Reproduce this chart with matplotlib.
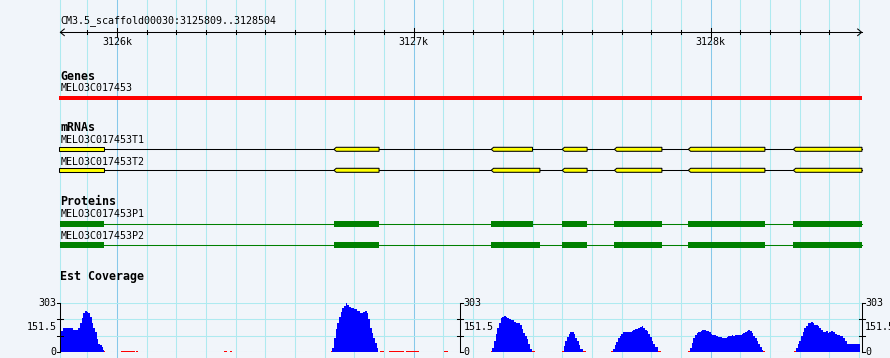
import matplotlib
matplotlib.use("Agg")
import matplotlib.pyplot as plt
from matplotlib.patches import Polygon

ref_name = "CM3.5_scaffold00030"
view_start = 3125809
view_end = 3128504

gene_name = "MELO3C017453"
gene_span = (3125809, 3128504)

mrna_names = ["MELO3C017453T1", "MELO3C017453T2"]
mrna_t1_exons = [(3125809, 3125955), (3126731, 3126883), (3127261, 3127400), (3127500, 3127584),
                 (3127676, 3127836), (3127925, 3128183), (3128279, 3128510)]
mrna_t2_exons = [(3125809, 3125955), (3126731, 3126883), (3127261, 3127425), (3127500, 3127584),
                 (3127676, 3127836), (3127925, 3128183), (3128279, 3128510)]

protein_names = ["MELO3C017453P1", "MELO3C017453P2"]
protein_p1_cds = [(3125809, 3125956), (3126731, 3126884), (3127260, 3127401), (3127499, 3127585),
                  (3127675, 3127837), (3127924, 3128184), (3128277, 3128510)]
protein_p2_cds = [(3125809, 3125956), (3126731, 3126884), (3127260, 3127426), (3127499, 3127585),
                  (3127675, 3127837), (3127924, 3128184), (3128277, 3128510)]

cov_max = 303
# step starts (bp) and est coverage values; each step runs to the next start
cov_start = [
    3125809, 3125811, 3125818, 3125825, 3125845, 3125852, 3125869, 3125875, 3125881, 3125887,
    3125892, 3125898, 3125903, 3125909, 3125915, 3125920, 3125926, 3125932, 3125937, 3125943,
    3125949, 3125954, 3125957, 3125960,
    3126014, 3126061, 3126064, 3126071, 3126361, 3126371, 3126381, 3126388,
    3126722, 3126725, 3126731, 3126737, 3126742, 3126748, 3126754, 3126759, 3126765, 3126771,
    3126776, 3126782, 3126787, 3126799, 3126808, 3126819, 3126830, 3126836, 3126841, 3126847,
    3126852, 3126858, 3126864, 3126869, 3126875, 3126880,
    3126886, 3126900, 3126916, 3126967, 3126974, 3127018, 3127102, 3127115,
    3127260, 3127264, 3127270, 3127276, 3127281, 3127287, 3127293, 3127298, 3127304, 3127310,
    3127315, 3127321, 3127326, 3127338, 3127343, 3127352, 3127358, 3127364, 3127369, 3127375,
    3127380, 3127386, 3127391, 3127397, 3127408,
    3127499, 3127505, 3127510, 3127516, 3127522, 3127527, 3127533, 3127539, 3127544, 3127550,
    3127556, 3127561, 3127569, 3127580,
    3127665, 3127671, 3127677, 3127682, 3127688, 3127694, 3127699, 3127705, 3127723, 3127734,
    3127740, 3127745, 3127751, 3127756, 3127762, 3127768, 3127773, 3127779, 3127785, 3127790,
    3127796, 3127801, 3127807, 3127813, 3127822, 3127833,
    3127924, 3127930, 3127936, 3127942, 3127947, 3127953, 3127958, 3127967, 3127972, 3127983,
    3127989, 3127994, 3128000, 3128006, 3128017, 3128026, 3128037, 3128043, 3128048, 3128054,
    3128060, 3128065, 3128071, 3128076, 3128082, 3128105, 3128110, 3128116, 3128122, 3128127,
    3128133, 3128138, 3128144, 3128150, 3128155, 3128161, 3128166, 3128172, 3128177, 3128183,
    3128281, 3128288, 3128293, 3128299, 3128304, 3128310, 3128316, 3128321, 3128327, 3128332,
    3128338, 3128344, 3128349, 3128361, 3128366, 3128372, 3128378, 3128389, 3128394, 3128400,
    3128406, 3128413, 3128419, 3128425, 3128436, 3128447, 3128453, 3128458,
]
cov_val = [
    93, 129, 145, 149, 145, 137, 145, 180, 207, 238,
    253, 246, 240, 216, 180, 149, 122, 77, 46, 40,
    29, 14, 7, 0,
    7, 0, 7, 0, 7, 0, 7, 0,
    7, 25, 87, 139, 180, 216, 243, 269, 284, 303,
    290, 278, 269, 261, 249, 240, 245, 249, 236, 201,
    149, 118, 87, 56, 25, 0,
    7, 0, 7, 0, 7, 0, 7, 0,
    7, 25, 66, 108, 149, 180, 207, 216, 222, 216,
    211, 205, 193, 185, 180, 176, 164, 139, 118, 98,
    77, 46, 20, 7, 0,
    7, 35, 66, 91, 108, 120, 124, 108, 87, 66,
    42, 19, 7, 0,
    7, 17, 42, 62, 83, 98, 112, 122, 124, 129,
    135, 139, 143, 149, 154, 157, 145, 137, 129, 112,
    91, 70, 50, 29, 7, 0,
    7, 25, 56, 83, 104, 116, 124, 131, 133, 126,
    129, 122, 112, 104, 98, 91, 83, 87, 83, 91,
    98, 95, 102, 98, 104, 108, 114, 120, 126, 135,
    129, 116, 98, 83, 66, 50, 29, 12, 7, 0,
    7, 25, 46, 70, 98, 124, 149, 162, 176, 180,
    183, 176, 166, 157, 145, 133, 122, 129, 118, 122,
    129, 122, 112, 104, 98, 83, 66, 52,
]
cov_end = 3128504

# ---- layout (pixel units) ----
W, H = 890, 358
PX_PER_BP = 0.2968
REF_BP, REF_PX = 3125900, 87.3
PX = 1.0 / PX_PER_BP  # one pixel in bp
x0 = REF_BP - REF_PX * PX
x1 = x0 + W * PX

BG = "#f1f5fa"
GRID_MINOR = "#aeeaf0"
GRID_MAJOR = "#86c8ea"
FONT = "DejaVu Sans Mono"
SMALL = 7.2
BOLD = 8.4
LW = 0.75

fig = plt.figure(figsize=(W / 100, H / 100), dpi=100, facecolor=BG)
ax = fig.add_axes([0, 0, 1, 1])
ax.set_xlim(x0, x1)
ax.set_ylim(H, 0)
ax.axis("off")

# vertical grid
ax.axvline(view_start, color=GRID_MINOR, lw=LW, zorder=0)
for g in range(3125900, 3128600, 100):
    ax.axvline(g, color=GRID_MAJOR if g % 1000 == 0 else GRID_MINOR, lw=LW, zorder=0)

# ruler
ax.text(view_start, 21, f"{ref_name}:{view_start}..{view_end}", family=FONT, size=SMALL,
        ha="left", va="center")
ry = 32.3
ax.plot([view_start, view_end + 1.5 * PX], [ry, ry], color="black", lw=LW)
ax.plot([view_start + 4 * PX, view_start, view_start + 4 * PX], [ry - 3.3, ry, ry + 3.3],
        color="black", lw=LW)
ax.plot([view_end - 2.5 * PX, view_end + 1.5 * PX, view_end - 2.5 * PX], [ry - 3.3, ry, ry + 3.3],
        color="black", lw=LW)
for g in range(3125900, 3128500, 100):
    if g % 1000 == 0:
        ax.plot([g, g], [ry - 4.3, ry + 4.3], color="black", lw=LW)
        ax.text(g, 42, f"{g // 1000}k", family=FONT, size=SMALL, ha="center", va="center")
    else:
        ax.plot([g, g], [ry - 2, ry + 2], color="black", lw=LW)

# genes
ax.text(view_start, 76, "Genes", family=FONT, size=BOLD, weight="bold", ha="left", va="center")
ax.text(view_start, 88.3, gene_name, family=FONT, size=SMALL, ha="left", va="center")
ax.broken_barh([(gene_span[0] - 1.5 * PX, gene_span[1] - gene_span[0] + 3 * PX)], (95.6, 4.8),
               facecolor="#ff0000", edgecolor="none")

# mRNAs
ax.text(view_start, 127.5, "mRNAs", family=FONT, size=BOLD, weight="bold", ha="left", va="center")
for name, exons, ly, yc in [(mrna_names[0], mrna_t1_exons, 140, 149.3),
                            (mrna_names[1], mrna_t2_exons, 161.7, 170.3)]:
    ax.text(view_start, ly, name, family=FONT, size=SMALL, ha="left", va="center")
    ax.plot([exons[0][0], exons[-1][1]], [yc, yc], color="black", lw=LW, zorder=2)
    for i, (s, e) in enumerate(exons):
        if i == 0:
            pts = [(s - 1.5 * PX, yc - 2), (e, yc - 2), (e, yc + 2), (s - 1.5 * PX, yc + 2)]
        else:
            pts = [(s, yc), (s + 2.3 * PX, yc - 2), (e, yc - 2), (e, yc + 2), (s + 2.3 * PX, yc + 2)]
        ax.add_patch(Polygon(pts, closed=True, facecolor="#ffff00", edgecolor="black",
                             lw=LW, zorder=3))

# proteins
ax.text(view_start, 201.7, "Proteins", family=FONT, size=BOLD, weight="bold", ha="left", va="center")
for name, cds, ly, yc in [(protein_names[0], protein_p1_cds, 214, 223.8),
                          (protein_names[1], protein_p2_cds, 235.8, 244.8)]:
    ax.text(view_start, ly, name, family=FONT, size=SMALL, ha="left", va="center")
    ax.plot([cds[0][0], cds[-1][1]], [yc, yc], color="#008000", lw=LW, zorder=2)
    ax.broken_barh([(s, e - s) for s, e in cds], (yc - 2.8, 5.7),
                   facecolor="#008000", edgecolor="none", zorder=3)

# est coverage
ax.text(view_start, 276.3, "Est Coverage", family=FONT, size=BOLD, weight="bold",
        ha="left", va="center")

top_px, base_px = 302.5, 352
axc = fig.add_axes([0, (H - base_px) / H, 1, (base_px - top_px) / H])
axc.set_xlim(x0, x1)
axc.set_ylim(0, cov_max)
axc.axis("off")
axc.patch.set_visible(False)

grid_vals = [0, cov_max / 3, 2 * cov_max / 3, cov_max]
for v in grid_vals:
    axc.plot([view_start, view_end + 1.5 * PX], [v, v], color=GRID_MINOR, lw=LW, zorder=0)

widths = [b - a for a, b in zip(cov_start, cov_start[1:] + [cov_end])]
colors = ["#ff0000" if v < 10 else "#0000ff" for v in cov_val]
axc.bar(cov_start, cov_val, width=widths, align="edge", color=colors, linewidth=0,
        antialiased=False, zorder=2)

mid = (view_start + view_end) / 2
for xa, side in [(view_start, -1), (mid, 1), (view_end + 1.5 * PX, 1)]:
    axc.plot([xa, xa], [0, cov_max], color="black", lw=LW, zorder=4, clip_on=False)
    for v in grid_vals:
        if v in (0, cov_max):
            axc.plot([xa, xa + side * 3 * PX], [v, v], color="black", lw=LW, zorder=4, clip_on=False)
        else:
            axc.plot([xa - 3 * PX, xa + 3 * PX], [v, v], color="black", lw=LW, zorder=4, clip_on=False)
    for v in [cov_max, cov_max / 2, 0]:
        axc.annotate(f"{v:g}", (xa, v), xytext=(side * 3.5, 0), textcoords="offset pixels",
                     family=FONT, size=SMALL, ha="right" if side < 0 else "left", va="center",
                     annotation_clip=False)

fig.savefig("out.png", dpi=100, facecolor=BG)
